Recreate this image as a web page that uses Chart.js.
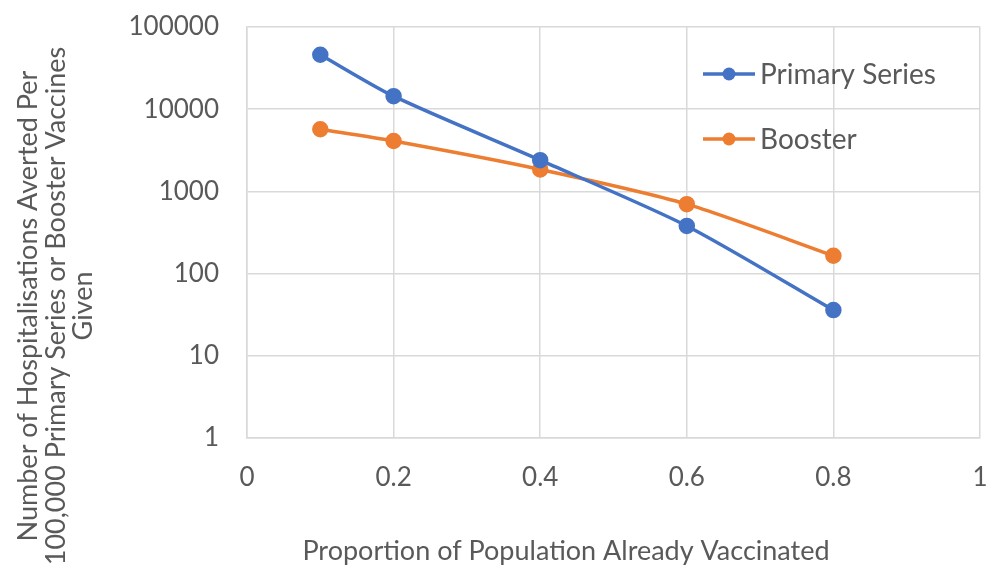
<!DOCTYPE html>
<html>
<head>
<meta charset="utf-8">
<script src="https://cdn.jsdelivr.net/npm/chart.js@4.4.0/dist/chart.umd.min.js"></script>
<style>
  html, body { margin: 0; padding: 0; background: #fff; }
  #wrap { width: 998px; height: 569px; }
</style>
</head>
<body>
<div id="wrap"><canvas id="chart" width="998" height="569"></canvas></div>
<script>
const proportions = [0.1, 0.2, 0.4, 0.6, 0.8];
const primarySeries = [46000, 14400, 2400, 380, 36];
const booster = [5700, 4100, 1850, 700, 165];
const yTickValues = [1, 10, 100, 1000, 10000, 100000];
const yTitle = ["Number of Hospitalisations Averted Per", "100,000 Primary Series or Booster Vaccines", "Given"];
const xTitle = "Proportion of Population Already Vaccinated";

const textColor = "#595959";
const gridColor = "#d9d9d9";
const fontFamily = "Lato, 'Open Sans', sans-serif";

function toPoints(values) {
    return proportions.map((x, i) => ({ x: x, y: values[i] }));
}

// legend inside the plot area (top right) and the two axis titles
const extras = {
    id: "extras",
    afterDraw(chart) {
        const ctx = chart.ctx;
        const rows = [74, 139];
        chart.data.datasets.forEach((ds, i) => {
            const y = rows[i];
            ctx.save();
            ctx.strokeStyle = ds.borderColor;
            ctx.lineWidth = 3.5;
            ctx.beginPath();
            ctx.moveTo(703, y);
            ctx.lineTo(755, y);
            ctx.stroke();
            ctx.fillStyle = ds.backgroundColor;
            ctx.beginPath();
            ctx.arc(729, y, 6.5, 0, Math.PI * 2);
            ctx.fill();
            ctx.fillStyle = textColor;
            ctx.font = "28px " + fontFamily;
            ctx.textBaseline = "middle";
            ctx.fillText(ds.label, 760, y + 1);
            ctx.restore();
        });

        ctx.save();
        ctx.fillStyle = textColor;
        ctx.font = "27px " + fontFamily;
        ctx.textAlign = "center";
        ctx.textBaseline = "middle";
        ctx.fillText(xTitle, 566, 551);
        ctx.translate(56, 306);
        ctx.rotate(-Math.PI / 2);
        yTitle.forEach((line, i) => ctx.fillText(line, 0, (i - 1) * 27.5));
        ctx.restore();
    }
};

const ctx = document.getElementById("chart").getContext("2d");
new Chart(ctx, {
    type: "line",
    data: {
        datasets: [
            {
                label: "Primary Series",
                data: toPoints(primarySeries),
                borderColor: "#4472C4",
                backgroundColor: "#4472C4",
                borderWidth: 3.5,
                pointRadius: 6.5,
                pointHoverRadius: 6.5,
                tension: 0.25
            },
            {
                label: "Booster",
                data: toPoints(booster),
                borderColor: "#ED7D31",
                backgroundColor: "#ED7D31",
                borderWidth: 3.5,
                pointRadius: 6.5,
                pointHoverRadius: 6.5,
                tension: 0.25
            }
        ]
    },
    options: {
        responsive: false,
        animation: false,
        layout: { padding: { left: 0, right: 18, top: 27, bottom: 0 } },
        plugins: {
            legend: { display: false },
            tooltip: { enabled: false }
        },
        scales: {
            x: {
                type: "linear",
                min: 0,
                max: 1,
                ticks: {
                    stepSize: 0.2,
                    color: textColor,
                    font: { family: fontFamily, size: 26 },
                    padding: 24,
                    callback: v => String(Math.round(v * 10) / 10)
                },
                grid: { color: gridColor, lineWidth: 1.5, drawTicks: false },
                border: { color: gridColor, width: 1.5 },
                afterFit(scale) {
                    scale.height = 131;
                    scale.paddingLeft = 0;
                    scale.paddingRight = 0;
                }
            },
            y: {
                type: "logarithmic",
                min: 1,
                max: 100000,
                afterBuildTicks(scale) {
                    scale.ticks = yTickValues.map(v => ({ value: v }));
                },
                ticks: {
                    color: textColor,
                    font: { family: fontFamily, size: 26 },
                    padding: 28,
                    callback: v => String(v)
                },
                grid: { color: gridColor, lineWidth: 1.5, drawTicks: false },
                border: { color: gridColor, width: 1.5 },
                afterFit(scale) {
                    scale.width = 247;
                    scale.paddingTop = 0;
                    scale.paddingBottom = 0;
                }
            }
        }
    },
    plugins: [extras]
});
</script>
</body>
</html>
